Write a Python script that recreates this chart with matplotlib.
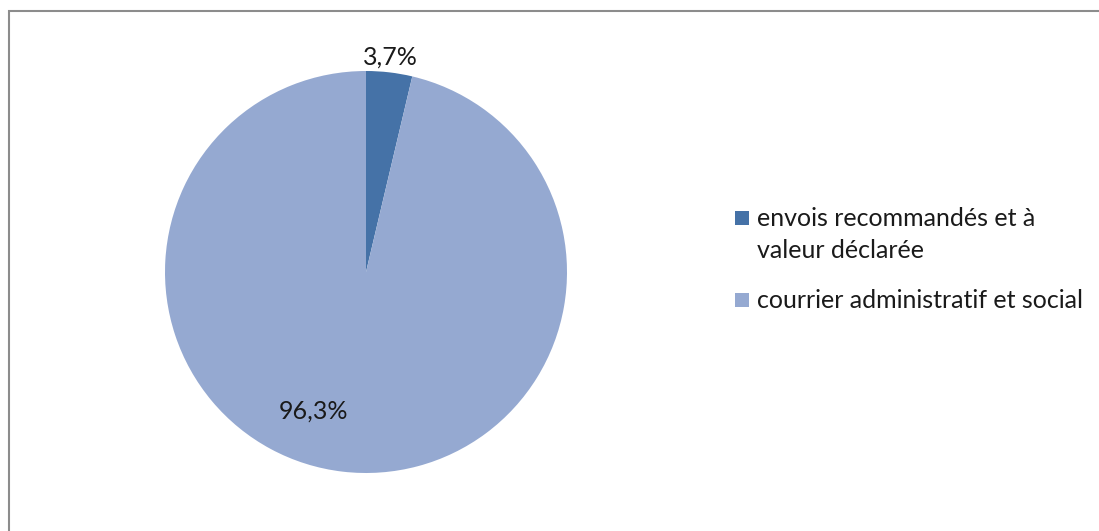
import matplotlib
matplotlib.use("Agg")
import matplotlib.pyplot as plt
from matplotlib.patches import Rectangle

categories = ["envois recommandés et à\nvaleur déclarée", "courrier administratif et social"]
shares = [3.7, 96.3]
label_texts = ["3,7%", "96,3%"]
colors = ["#4572A7", "#95A9D1"]

plt.rcParams["font.family"] = ["Lato", "DejaVu Sans"]

W, H = 1099, 531
FS = 18
fig = plt.figure(figsize=(W / 100, H / 100), dpi=100)


def fx(px):
    return px / W


def fy(py):
    return 1 - py / H


# chart frame (grey border)
fig.patches.append(Rectangle((fx(9), -0.01), 1.2, fy(11) + 0.01,
                             transform=fig.transFigure, fill=False,
                             edgecolor="#8c8c8c", linewidth=1.5))

ax = fig.add_axes([fx(165), fy(473), 402 / W, 402 / H])
wedges, _ = ax.pie(shares, colors=colors, startangle=90, counterclock=False,
                   wedgeprops=dict(linewidth=0))
ax.set_xlim(-1, 1)
ax.set_ylim(-1, 1)
ax.set_aspect("equal")

label_pos = [(0.12, 1.07), (-0.26, -0.69)]
for (x, y), t in zip(label_pos, label_texts):
    ax.text(x, y, t, ha="center", va="center", fontsize=FS, color="#1a1a1a")

# legend: square swatch beside the first line of each entry
item_y = [218, 300]
line_gap = 33
sq = 14
for name, col, y0 in zip(categories, colors, item_y):
    fig.patches.append(Rectangle((fx(735), fy(y0 + sq / 2)), sq / W, sq / H,
                                 transform=fig.transFigure, facecolor=col,
                                 edgecolor="none"))
    for k, line in enumerate(name.split("\n")):
        fig.text(fx(757), fy(y0 + k * line_gap), line, ha="left",
                 va="center", fontsize=FS, color="#1a1a1a")

fig.savefig("out.png", dpi=100)
